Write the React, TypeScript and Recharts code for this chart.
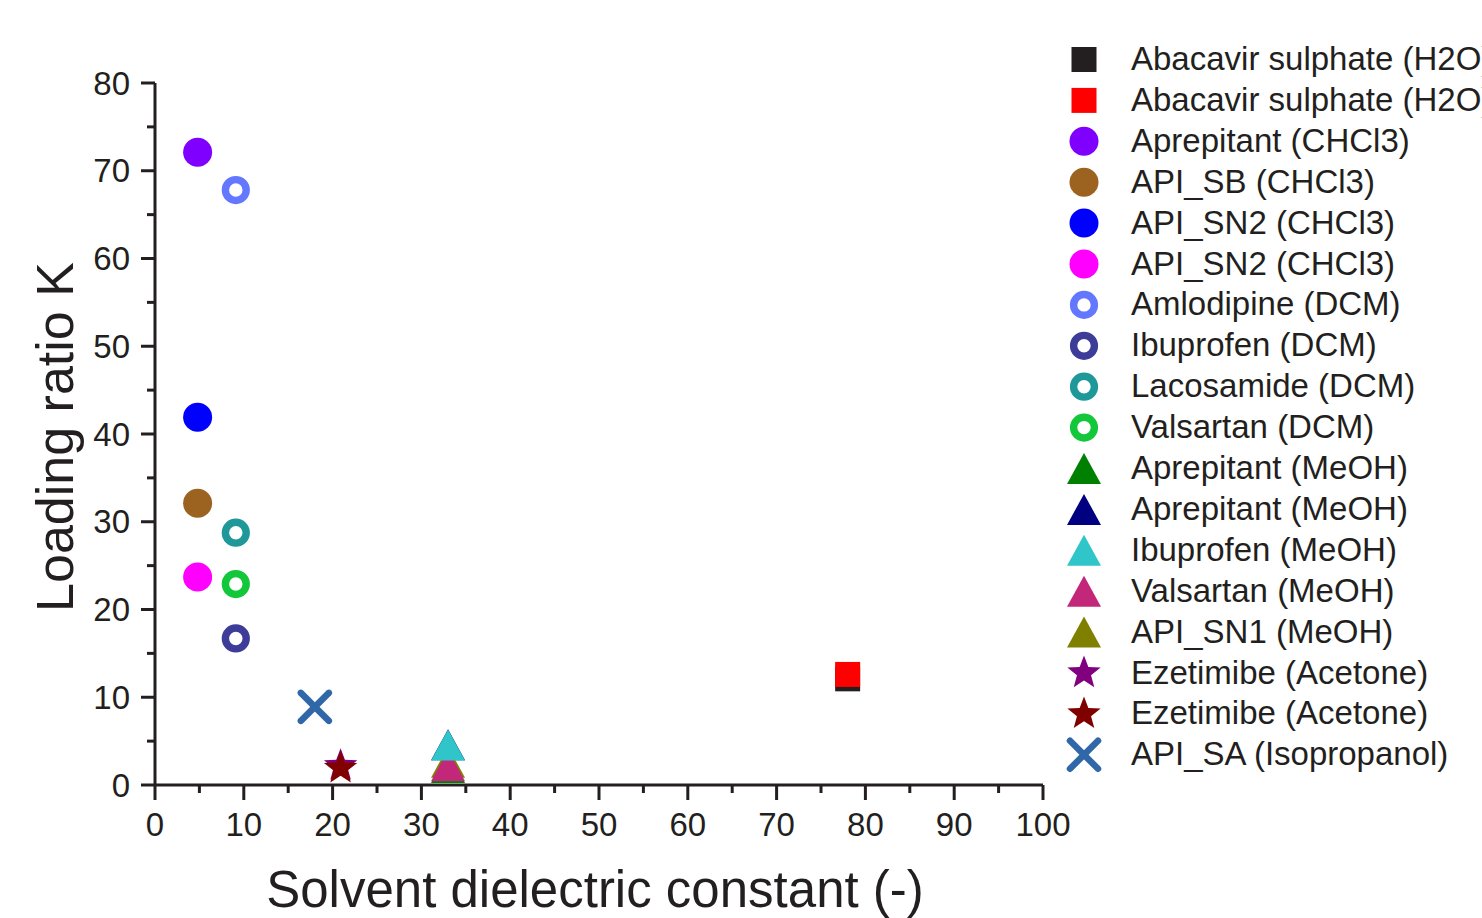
import React from "react";
import { ScatterChart, Scatter, XAxis, YAxis, Label } from "recharts";

const seriesNames = [
  "Abacavir sulphate (H2O)",
  "Abacavir sulphate (H2O)",
  "Aprepitant (CHCl3)",
  "API_SB (CHCl3)",
  "API_SN2 (CHCl3)",
  "API_SN2 (CHCl3)",
  "Amlodipine (DCM)",
  "Ibuprofen (DCM)",
  "Lacosamide (DCM)",
  "Valsartan (DCM)",
  "Aprepitant (MeOH)",
  "Aprepitant (MeOH)",
  "Ibuprofen (MeOH)",
  "Valsartan (MeOH)",
  "API_SN1 (MeOH)",
  "Ezetimibe (Acetone)",
  "Ezetimibe (Acetone)",
  "API_SA (Isopropanol)",
];

const dielectric = [78, 78, 4.8, 4.8, 4.8, 4.8, 9.1, 9.1, 9.1, 9.1, 33, 33, 33, 33, 33, 20.9, 20.9, 18];
const loadingK = [12.1, 12.6, 72.1, 32.1, 41.9, 23.7, 67.8, 16.7, 28.75, 22.9, 2.0, 4.6, 4.55, 2.2, 2.6, 2.2, 1.9, 8.9];

const seriesColors = [
  "#231f20", "#ff0000", "#7f00ff", "#9c6320", "#0000ff", "#ff00ff",
  "#6478ff", "#3d3d99", "#1e9898", "#12c83a",
  "#008000", "#000080", "#30c5c8", "#c2277a", "#808000",
  "#800080", "#800000", "#2f67a8",
];

const seriesSymbols = [
  "square", "square", "circle", "circle", "circle", "circle",
  "ring", "ring", "ring", "ring",
  "triangle", "triangle", "triangle", "triangle", "triangle",
  "star", "star", "cross",
];

// paint order so overlapping markers stack like the original
const drawOrder = [0, 1, 2, 3, 4, 5, 6, 7, 8, 9, 10, 11, 14, 13, 12, 15, 16, 17];

const xTicks = [0, 5, 10, 15, 20, 25, 30, 35, 40, 45, 50, 55, 60, 65, 70, 75, 80, 85, 90, 95, 100];
const yTicks = [0, 5, 10, 15, 20, 25, 30, 35, 40, 45, 50, 55, 60, 65, 70, 75, 80];

const FONT = "'Liberation Sans', Arial, Helvetica, sans-serif";
const INK = "#231f20";

function Marker({ kind, color, cx, cy }: { kind: string; color: string; cx: number; cy: number }) {
  if (kind === "square") return <rect x={cx - 12.5} y={cy - 12.5} width={25} height={25} fill={color} />;
  if (kind === "circle") return <circle cx={cx} cy={cy} r={14.5} fill={color} />;
  if (kind === "ring") return <circle cx={cx} cy={cy} r={10.4} fill="none" stroke={color} strokeWidth={7.4} />;
  if (kind === "triangle")
    return <polygon points={`${cx},${cy - 15.5} ${cx - 17},${cy + 15.5} ${cx + 17},${cy + 15.5}`} fill={color} />;
  if (kind === "star") {
    const pts: string[] = [];
    for (let i = 0; i < 10; i++) {
      const r = i % 2 === 0 ? 17.5 : 7.4;
      const a = -Math.PI / 2 + (i * Math.PI) / 5;
      pts.push(`${cx + r * Math.cos(a)},${cy + r * Math.sin(a)}`);
    }
    return <polygon points={pts.join(" ")} fill={color} />;
  }
  return (
    <g stroke={color} strokeWidth={6.5} strokeLinecap="round">
      <line x1={cx - 14} y1={cy - 14} x2={cx + 14} y2={cy + 14} />
      <line x1={cx - 14} y1={cy + 14} x2={cx + 14} y2={cy - 14} />
    </g>
  );
}

const XTick = (props: any) => {
  const { x, y, payload } = props;
  const major = payload.value % 10 === 0;
  return (
    <g>
      <line x1={x} y1={y} x2={x} y2={y + (major ? 15 : 8)} stroke={INK} strokeWidth={3} />
      {major && (
        <text x={x} y={y + 51} textAnchor="middle" fontSize={33} fontFamily={FONT} fill={INK}>
          {payload.value}
        </text>
      )}
    </g>
  );
};

const YTick = (props: any) => {
  const { x, y, payload } = props;
  const major = payload.value % 10 === 0;
  return (
    <g>
      <line x1={x} y1={y} x2={x - (major ? 14 : 8)} y2={y} stroke={INK} strokeWidth={3} />
      {major && (
        <text x={x - 25} y={y + 11.5} textAnchor="end" fontSize={33} fontFamily={FONT} fill={INK}>
          {payload.value}
        </text>
      )}
    </g>
  );
};

function LegendBox() {
  return (
    <svg width={422} height={918} style={{ position: "absolute", left: 1060, top: 0 }}>
      {seriesNames.map((name, i) => {
        const rowY = 59.5 + i * 40.9;
        return (
          <g key={i}>
            <Marker kind={seriesSymbols[i]} color={seriesColors[i]} cx={24} cy={rowY} />
            <text x={71} y={rowY + 10.5} fontSize={33} fontFamily={FONT} fill={INK}>
              {name}
            </text>
          </g>
        );
      })}
    </svg>
  );
}

export default function App() {
  return (
    <div style={{ position: "absolute", left: 0, top: 0, width: 1482, height: 918, background: "#fff", overflow: "hidden" }}>
      <ScatterChart width={1482} height={918} margin={{ top: 83, right: 439, bottom: 0, left: 0 }}>
        <XAxis
          type="number"
          dataKey="x"
          domain={[0, 100]}
          ticks={xTicks}
          interval={0}
          tick={<XTick />}
          tickLine={false}
          tickSize={0}
          tickMargin={0}
          height={133}
          axisLine={{ stroke: INK, strokeWidth: 3 }}
        >
          <Label
            content={(p: any) => (
              <text
                x={p.viewBox.x + p.viewBox.width / 2 - 4}
                y={p.viewBox.y + 122}
                textAnchor="middle"
                fontSize={51}
                fontFamily={FONT}
                fill={INK}
              >
                Solvent dielectric constant (-)
              </text>
            )}
          />
        </XAxis>
        <YAxis
          type="number"
          dataKey="y"
          domain={[0, 80]}
          ticks={yTicks}
          interval={0}
          tick={<YTick />}
          tickLine={false}
          tickSize={0}
          tickMargin={0}
          width={155}
          axisLine={{ stroke: INK, strokeWidth: 3 }}
        >
          <Label
            content={(p: any) => (
              <text
                transform={`translate(${p.viewBox.x + 73}, ${p.viewBox.y + p.viewBox.height / 2 + 3}) rotate(-90)`}
                textAnchor="middle"
                fontSize={52}
                fontFamily={FONT}
                fill={INK}
              >
                Loading ratio K
              </text>
            )}
          />
        </YAxis>
        {drawOrder.map((i) => (
          <Scatter
            key={i}
            name={seriesNames[i]}
            data={[{ x: dielectric[i], y: loadingK[i] }]}
            isAnimationActive={false}
            shape={(p: any) => <Marker kind={seriesSymbols[i]} color={seriesColors[i]} cx={p.cx} cy={p.cy} />}
          />
        ))}
      </ScatterChart>
      <LegendBox />
    </div>
  );
}
